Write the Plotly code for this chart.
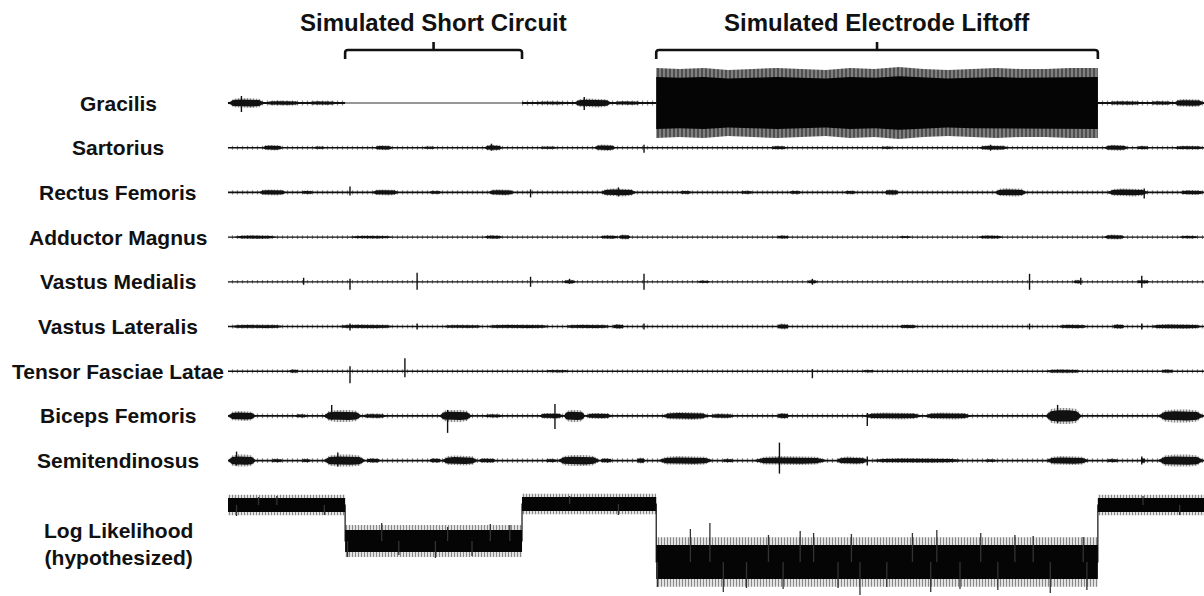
import plotly.graph_objects as go

# ---- recording events (seconds) ----
short_circuit = (9.6, 24.1)
liftoff = (35.1, 71.3)
t_end = 80.0

channel_names = [
    "Gracilis", "Sartorius", "Rectus Femoris", "Adductor Magnus",
    "Vastus Medialis", "Vastus Lateralis", "Tensor Fasciae Latae",
    "Biceps Femoris", "Semitendinosus",
]
# resting noise half-amplitude for each channel
baseline_amp = [1.2, 1.0, 1.1, 0.9, 0.9, 1.0, 1.0, 1.2, 1.2]

# bursts: (start s, end s, half-amplitude)
bursts_gracilis = [(0.0, 3.0, 5.0), (3.0, 6.0, 2.5), (6.5, 9.0, 2.0),
                   (25.0, 28.0, 1.8), (28.3, 31.5, 4.5), (31.5, 34.0, 2.0),
                   (72.0, 75.0, 2.0), (75.5, 77.5, 2.0), (77.5, 80.0, 4.0)]
bursts_sartorius = [(2.8, 4.5, 2.8), (7.0, 8.0, 1.5), (12.0, 13.5, 2.5), (16.0, 17.0, 1.5),
                    (21.0, 22.5, 3.0), (25.5, 27.0, 1.5), (30.0, 31.8, 3.2), (44.5, 45.8, 2.0),
                    (53.5, 54.5, 1.5), (61.5, 64.0, 2.5), (71.8, 73.8, 3.0), (74.5, 75.5, 2.0),
                    (77.5, 80.0, 2.0)]
bursts_rectus = [(2.5, 4.8, 3.0), (6.0, 7.0, 2.0), (11.8, 14.0, 3.0), (16.5, 17.5, 1.8),
                 (21.3, 23.5, 3.2), (30.5, 33.5, 4.0), (37.0, 38.0, 2.0), (42.0, 43.0, 1.8),
                 (46.0, 47.0, 2.0), (50.5, 51.5, 2.0), (53.8, 55.0, 3.0), (62.8, 65.5, 4.2),
                 (72.0, 75.5, 4.0), (78.0, 80.0, 2.5)]
bursts_adductor = [(0.5, 4.0, 2.0), (10.0, 13.5, 1.6), (21.0, 22.5, 2.0), (30.5, 32.0, 2.0),
                   (32.0, 33.0, 2.5), (45.0, 46.0, 1.8), (55.0, 56.0, 1.2), (61.5, 63.5, 1.8),
                   (71.8, 73.5, 2.5), (78.0, 79.5, 1.5)]
bursts_vmedialis = [(27.5, 28.5, 2.0), (38.5, 39.5, 1.5), (47.5, 48.3, 2.0),
                    (69.3, 70.0, 2.0), (74.5, 75.5, 2.0)]
bursts_vlateralis = [(0.1, 4.7, 2.0), (8.9, 13.7, 2.2), (17.5, 21.0, 1.8), (21.0, 26.6, 2.0),
                     (27.5, 31.5, 2.0), (31.5, 32.5, 2.5), (45.0, 46.0, 3.0), (55.0, 56.5, 2.0),
                     (68.0, 70.5, 2.2), (72.5, 73.5, 2.5), (75.5, 80.0, 2.5)]
bursts_tfl = [(5.0, 5.8, 2.0), (26.0, 28.0, 1.5), (52.0, 53.0, 1.5),
              (67.0, 70.0, 2.0), (76.5, 77.5, 2.0)]
bursts_biceps = [(0.0, 2.3, 5.0), (5.5, 6.5, 2.0), (7.8, 11.0, 6.0), (11.0, 13.0, 2.5),
                 (17.3, 20.0, 6.0), (21.0, 22.5, 2.0), (25.5, 27.5, 3.0), (27.5, 29.3, 6.0),
                 (29.3, 31.5, 3.0), (35.5, 39.5, 4.0), (39.5, 41.5, 2.5), (45.0, 46.0, 3.0),
                 (52.0, 57.0, 3.5), (57.0, 61.0, 3.5), (67.0, 70.0, 8.0), (76.2, 80.0, 6.5)]
bursts_semitend = [(0.0, 2.3, 6.0), (3.5, 4.5, 2.0), (6.0, 6.8, 2.0), (7.8, 11.3, 6.0),
                   (11.3, 12.5, 2.5), (16.5, 17.5, 2.5), (17.5, 20.5, 5.0), (20.5, 22.0, 2.5),
                   (26.0, 27.0, 2.0), (27.0, 30.5, 5.5), (30.5, 31.5, 2.5), (33.5, 34.2, 3.0),
                   (35.2, 39.8, 4.5), (40.5, 41.5, 2.0), (43.0, 49.2, 4.5), (49.8, 52.5, 4.0),
                   (52.5, 60.5, 2.5), (62.0, 63.0, 1.5), (67.0, 70.6, 4.5), (72.0, 73.0, 2.0),
                   (74.8, 75.2, 3.0), (76.2, 80.0, 6.0)]

# isolated spikes: (time s, upward peak, downward peak)
spikes_gracilis = [(1.1, 7, 9), (29.2, 6, 7)]
spikes_sartorius = [(21.6, 4, 3), (34.1, 3, 5), (62.5, 3, 3)]
spikes_rectus = [(10.0, 6, 3), (24.8, 3, 5), (32.0, 5, 4), (75.1, 4, 6)]
spikes_adductor = []
spikes_vmedialis = [(6.2, 4, 3), (10.0, 3, 8), (15.5, 9, 8), (24.8, 5, 5), (28.0, 3, 2),
                    (34.1, 8, 8), (47.9, 3, 3), (65.7, 8, 8), (69.9, 4, 3), (74.9, 6, 6)]
spikes_vlateralis = [(10.0, 3, 4), (15.5, 3, 3), (34.1, 3, 3), (65.7, 3, 3), (74.9, 3, 3)]
spikes_tfl = [(10.0, 5, 12), (14.5, 13, 6), (47.9, 2, 7)]
spikes_biceps = [(8.5, 11, 4), (18.0, 6, 17), (26.8, 12, 13), (52.4, 3, 10), (68.0, 11, 7)]
spikes_semitend = [(0.7, 9, 5), (9.0, 8, 6), (45.2, 18, 13), (52.4, 4, 5), (74.9, 4, 4)]

channel_bursts = [bursts_gracilis, bursts_sartorius, bursts_rectus, bursts_adductor,
                  bursts_vmedialis, bursts_vlateralis, bursts_tfl, bursts_biceps, bursts_semitend]
channel_spikes = [spikes_gracilis, spikes_sartorius, spikes_rectus, spikes_adductor,
                  spikes_vmedialis, spikes_vlateralis, spikes_tfl, spikes_biceps, spikes_semitend]

# gracilis saturation during the liftoff (half-amplitude envelope)
gracilis_liftoff_t = [35.1, 37, 39, 41, 43, 45, 47, 49, 51, 53, 55, 57, 59, 61, 63, 65, 67, 69, 71.3]
gracilis_liftoff_amp = [35, 34, 35, 33, 34, 35, 34, 33, 35, 34, 36, 34, 33, 34, 35, 34, 34, 35, 35]

# hypothesized log likelihood: piecewise level and spread
ll_breaks = [0.0, 9.6, 24.1, 35.1, 71.3, 80.0]
ll_level = [0, -36, 1, -57, 0]
ll_spread = [7, 11, 7, 17, 7]
ll_spikes = [(0.7, -11), (4.0, 9), (7.9, -10), (2.5, 8),
             (9.8, -52), (12.6, -18), (17.0, -53), (18.0, -22), (21.5, -19), (23.1, -20),
             (14.0, -50), (20.0, -51), (28.0, 9), (32.0, -10), (75.0, 9), (78.0, -10),
             (35.2, -82), (37.9, -24), (39.5, -18), (40.6, -87), (42.5, -83), (44.3, -30),
             (46.9, -26), (48.0, -28), (50.0, -83), (51.1, -29), (51.8, -90), (56.1, -28),
             (57.6, -87), (58.1, -25), (61.7, -28), (63.1, -85), (64.5, -30), (67.4, -88),
             (70.1, -32), (70.4, -85), (54.0, -82), (60.0, -84), (66.0, -31), (45.5, -84)]

# ---- layout geometry ----
FIG_W, FIG_H = 1204, 596
PX_PER_S = 12.2
TRACE_LEFT = 228
row_y = [103 + 44.7 * i for i in range(len(channel_names))]
ll_y = 505
ink = "#111111"
CLEAR = "rgba(255,255,255,0)"

fig = go.Figure()


def hatch(solidity, size=3, bg=CLEAR):
    """Vertical-stroke fill used for the fuzzy fringe of the signals."""
    return dict(shape="|", fgcolor=ink, bgcolor=bg, size=size, solidity=solidity)


def spindle(t0, t1, a, yc):
    w = t1 - t0
    fr = [0, 0.15, 0.35, 0.65, 0.85, 1.0]
    pr = [0, 0.85, 1.0, 1.0, 0.85, 0]
    xs = [t0 + f * w for f in fr] + [t0 + f * w for f in fr[::-1]]
    ys = [yc - p * a for p in pr] + [yc + p * a for p in pr[::-1]]
    return xs, ys


def add_area(xs, ys, color=None, pattern=None):
    kw = dict(x=xs, y=ys, mode="lines", fill="toself", hoverinfo="skip",
              line=dict(width=0, color=CLEAR))
    if pattern is not None:
        kw["fillcolor"] = CLEAR
        kw["fillpattern"] = pattern
    else:
        kw["fillcolor"] = color
    fig.add_trace(go.Scatter(**kw))


for i, name in enumerate(channel_names):
    yc = row_y[i]
    amp = baseline_amp[i]
    if name == "Gracilis":
        segs = [(0.0, short_circuit[0]), (short_circuit[1], t_end)]
    else:
        segs = [(0.0, t_end)]
    # hairy fringe around the resting baseline
    hx, hy, bx, by = [], [], [], []
    for a, b in segs:
        hx += [a, b, b, a, a, None]
        hy += [yc - 2.0 * amp, yc - 2.0 * amp, yc + 2.0 * amp, yc + 2.0 * amp, yc - 2.0 * amp, None]
        bx += [a, b, None]
        by += [yc, yc, None]
    add_area(hx, hy, pattern=hatch(0.25, size=5))
    fig.add_trace(go.Scatter(x=bx, y=by, mode="lines", hoverinfo="skip",
                             line=dict(color=ink, width=1.5 * amp)))
    # bursts: striped outer swing + dense core
    ox, oy, cx, cy = [], [], [], []
    for t0, t1, a in channel_bursts[i]:
        xs, ys = spindle(t0, t1, a, yc)
        ox += xs + [None]
        oy += ys + [None]
        xs, ys = spindle(t0, t1, 0.7 * a, yc)
        cx += xs + [None]
        cy += ys + [None]
    if ox:
        add_area(ox, oy, pattern=hatch(0.55, size=3))
        add_area(cx, cy, color=ink)
    # spikes
    sx, sy = [], []
    for t, up, down in channel_spikes[i]:
        sx += [t, t, None]
        sy += [yc - up, yc + down, None]
    if sx:
        fig.add_trace(go.Scatter(x=sx, y=sy, mode="lines", hoverinfo="skip",
                                 line=dict(color=ink, width=1.4)))

# gracilis: flat line while shorted
g_y = row_y[0]
fig.add_trace(go.Scatter(x=list(short_circuit), y=[g_y, g_y], mode="lines", hoverinfo="skip",
                         line=dict(color="#333333", width=1)))

# gracilis: saturated block during liftoff (striped outer swing, black core)
xs = gracilis_liftoff_t + gracilis_liftoff_t[::-1]
ys = ([g_y - a for a in gracilis_liftoff_amp] + [g_y + a for a in gracilis_liftoff_amp[::-1]])
add_area(xs, ys, pattern=hatch(0.6, size=4, bg="#8c8c8c"))
ys = ([g_y - 0.74 * a for a in gracilis_liftoff_amp]
      + [g_y + 0.74 * a for a in gracilis_liftoff_amp[::-1]])
add_area(xs, ys, color="#050505")

# log likelihood trace
step_x, step_y = [], []
for k, lev in enumerate(ll_level):
    step_x += [ll_breaks[k], ll_breaks[k + 1]]
    step_y += [ll_y - lev, ll_y - lev]
fig.add_trace(go.Scatter(x=step_x, y=step_y, mode="lines", hoverinfo="skip",
                         line=dict(color=ink, width=1.2)))
for grow, style in [(1.45, "fringe"), (1.0, "core")]:
    rx, ry = [], []
    for k, lev in enumerate(ll_level):
        a, b = ll_breaks[k], ll_breaks[k + 1]
        s = ll_spread[k] * grow
        rx += [a, b, b, a, a, None]
        ry += [ll_y - lev - s, ll_y - lev - s, ll_y - lev + s, ll_y - lev + s, ll_y - lev - s, None]
    if style == "fringe":
        add_area(rx, ry, pattern=hatch(0.5, size=3))
    else:
        add_area(rx, ry, color="#050505")


def ll_level_at(t):
    for k in range(len(ll_level)):
        if ll_breaks[k] <= t < ll_breaks[k + 1]:
            return ll_level[k]
    return ll_level[-1]


lx, ly = [], []
for t, v in ll_spikes:
    lx += [t, t, None]
    ly += [ll_y - ll_level_at(t), ll_y - v, None]
fig.add_trace(go.Scatter(x=lx, y=ly, mode="lines", hoverinfo="skip",
                         line=dict(color="#333333", width=1.3)))

# event brackets and titles
shapes, annotations = [], []
for (a, b), title in [(short_circuit, "Simulated Short Circuit"),
                      (liftoff, "Simulated Electrode Liftoff")]:
    mid = (a + b) / 2
    r = 0.25
    path = (f"M {a},59 L {a},52.5 Q {a},50 {a + r},50 L {b - r},50 "
            f"Q {b},50 {b},52.5 L {b},59")
    shapes.append(dict(type="path", xref="x", yref="y", path=path,
                       line=dict(color=ink, width=2.6)))
    shapes.append(dict(type="line", xref="x", yref="y", x0=mid, x1=mid, y0=50, y1=42,
                       line=dict(color=ink, width=2.6)))
    annotations.append(dict(x=mid, y=22, xref="x", yref="y", text=f"<b>{title}</b>",
                            showarrow=False, xanchor="center", yanchor="middle",
                            font=dict(size=24, color=ink)))

label_x = 118 / FIG_W
for i, name in enumerate(channel_names):
    annotations.append(dict(x=label_x, y=row_y[i], xref="paper", yref="y",
                            text=f"<b>{name}</b>", showarrow=False,
                            xanchor="center", yanchor="middle",
                            font=dict(size=21, color=ink)))
annotations.append(dict(x=label_x, y=544, xref="paper", yref="y",
                        text="<b>Log Likelihood<br>(hypothesized)</b>", showarrow=False,
                        xanchor="center", yanchor="middle", align="center",
                        font=dict(size=21, color=ink)))

fig.update_layout(
    width=FIG_W, height=FIG_H,
    margin=dict(l=0, r=0, t=0, b=0),
    paper_bgcolor="white", plot_bgcolor="white",
    showlegend=False,
    font=dict(family="Liberation Sans, Arial, sans-serif"),
    shapes=shapes, annotations=annotations,
    xaxis=dict(range=[-TRACE_LEFT / PX_PER_S, t_end], visible=False, fixedrange=True),
    yaxis=dict(range=[FIG_H, 0], visible=False, fixedrange=True),
)

fig.write_html("out.html")
